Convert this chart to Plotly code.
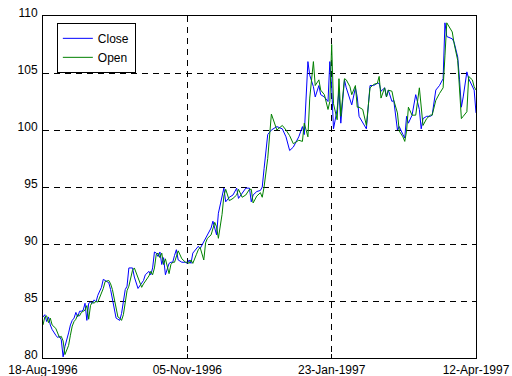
import datetime as dt
import plotly.graph_objects as go

# Daily prices, trading days counted from 18-Aug-1996
start = dt.date(1996, 8, 18)
day = [0, 1, 2, 3, 4, 5, 7, 8, 9, 10, 11, 12, 14, 15, 16, 17, 18, 19, 20, 21,
       22, 23, 24, 25, 26, 27, 28, 29, 30, 31, 32, 33, 34, 36, 37, 38, 39, 40, 41, 42,
       43, 44, 45, 46, 47, 49, 50, 52, 54, 55, 56, 58, 59, 60, 61, 62, 63, 64, 65, 66,
       67, 69, 70, 71, 72, 73, 74, 76, 78, 79, 80, 81, 82, 84, 85, 86, 88, 89, 90, 92,
       93, 94, 95, 96, 98, 99, 100, 102, 104, 106, 107, 109, 111, 113, 114, 115, 117, 119, 120, 121,
       123, 125, 128, 131, 133, 135, 137, 140, 142, 143, 145, 146, 148, 149, 151, 152, 154, 156, 157, 158,
       159, 161, 162, 163, 165, 166, 168, 169, 171, 172, 173, 175, 177, 179, 181, 183, 184, 185, 187, 188,
       189, 191, 192, 194, 195, 197, 198, 199, 200, 202, 203, 204, 206, 207, 208, 210, 212, 213, 215, 217,
       219, 220, 221, 224, 225, 227, 228, 229, 230, 232, 233, 235, 236, 237]

close = [83.6, 83.8, 83.2, 83.6, 82.9, 82.5, 82.0, 81.8, 81.9, 81.6, 80.1, 81.0, 82.2, 82.9, 83.3, 83.5, 84.0, 83.6, 84.1, 84.1,
         84.2, 84.8, 83.3, 84.8, 84.9, 84.8, 85.1, 84.9, 85.5, 85.8, 86.2, 86.9, 86.8, 86.6, 86.0, 85.1, 84.1, 83.5, 83.4, 83.3,
         83.9, 84.9, 86.0, 86.3, 87.9, 87.9, 87.1, 86.1, 86.5, 86.8, 87.3, 87.6, 87.3, 87.9, 89.3, 89.2, 88.9, 89.3, 88.2, 88.8,
         87.3, 88.3, 88.4, 88.4, 89.0, 89.5, 88.6, 88.4, 88.4, 88.3, 88.6, 88.3, 89.2, 89.6, 89.8, 89.6, 90.2, 90.6, 90.9, 91.4,
         92.0, 91.5, 90.8, 92.7, 94.3, 94.9, 93.7, 94.1, 94.3, 94.9, 94.0, 94.4, 94.9, 94.9, 93.7, 94.3, 94.6, 94.7, 95.0, 96.6,
         99.6, 100.0, 100.3, 100.1, 99.4, 98.2, 98.5, 99.4, 100.3, 99.6, 106.0, 104.8, 103.8, 102.9, 103.9, 103.1, 102.9, 102.5, 106.0, 103.8,
         100.1, 101.8, 103.5, 100.6, 104.4, 103.7, 102.8, 102.2, 103.7, 102.9, 101.2, 100.7, 100.1, 103.9, 103.9, 104.1, 104.1, 103.4, 103.7, 102.9,
         103.5, 102.5, 102.6, 100.0, 100.3, 99.6, 99.3, 101.2, 100.6, 101.3, 102.2, 103.1, 101.8, 100.1, 101.0, 101.2, 101.2, 101.3, 103.5, 103.9,
         104.5, 109.4, 108.2, 108.0, 107.7, 106.4, 104.4, 102.0, 102.9, 105.1, 104.5, 103.8, 103.5, 101.5]

open_ = [82.9, 83.6, 83.7, 83.1, 83.5, 82.9, 82.6, 82.1, 81.8, 81.9, 81.5, 80.3, 81.1, 82.0, 82.8, 83.2, 83.4, 83.8, 83.7, 84.0,
         84.1, 84.2, 84.6, 83.4, 84.6, 84.9, 84.8, 85.0, 84.9, 85.4, 85.7, 86.1, 86.7, 86.8, 86.5, 86.0, 85.2, 84.2, 83.6, 83.5,
         83.3, 83.8, 84.8, 85.9, 86.3, 87.7, 87.9, 87.0, 86.2, 86.5, 86.7, 87.2, 87.6, 87.3, 87.9, 89.1, 89.2, 88.8, 89.2, 88.2,
         88.7, 87.4, 88.2, 88.4, 88.4, 89.0, 89.4, 88.7, 88.4, 88.4, 88.3, 88.6, 88.3, 89.1, 89.5, 89.7, 88.6, 90.1, 90.5, 90.8,
         91.3, 91.9, 91.5, 90.5, 92.6, 94.2, 94.8, 93.8, 94.0, 94.3, 94.8, 94.1, 94.3, 94.8, 94.8, 93.6, 94.2, 94.5, 94.1, 95.0,
         97.5, 101.4, 100.0, 100.4, 100.0, 99.5, 98.8, 99.1, 99.0, 100.6, 99.4, 102.8, 106.0, 103.9, 104.4, 103.5, 103.1, 101.8, 102.5, 107.5,
         102.3, 100.9, 104.5, 101.2, 104.5, 104.4, 103.8, 103.1, 103.9, 102.0, 102.0, 101.8, 100.4, 103.7, 104.0, 104.1, 104.7, 102.8, 103.7, 102.9,
         103.5, 103.4, 102.6, 101.5, 99.9, 99.4, 99.0, 99.9, 102.0, 101.3, 101.3, 101.3, 103.7, 101.8, 100.4, 101.0, 101.3, 101.3, 102.6, 103.2,
         103.7, 106.5, 109.4, 108.6, 107.6, 106.1, 103.8, 101.0, 101.2, 101.6, 104.7, 104.4, 103.8, 103.5]

tick_dates = ["1996-08-18", "1996-11-05", "1997-01-23", "1997-04-12"]
tick_text = ["18-Aug-1996", "05-Nov-1996", "23-Jan-1997", "12-Apr-1997"]
y_ticks = [80, 85, 90, 95, 100, 105, 110]

dates = [start + dt.timedelta(days=d) for d in day]

fig = go.Figure()
fig.add_trace(go.Scatter(x=dates, y=close, mode="lines", name="Close",
                         line=dict(color="#0000ff", width=1)))
fig.add_trace(go.Scatter(x=dates, y=open_, mode="lines", name="Open",
                         line=dict(color="#008000", width=1)))

font = dict(family="Liberation Sans, Arial, sans-serif", size=12, color="black")

fig.update_layout(
    width=512, height=376,
    margin=dict(l=43, r=36, t=16, b=18, autoexpand=False),
    paper_bgcolor="white", plot_bgcolor="white",
    font=font,
    showlegend=True,
    legend=dict(x=0.032, y=0.98, xanchor="left", yanchor="top",
                bgcolor="white", bordercolor="black", borderwidth=1,
                font=font, tracegroupgap=0),
    xaxis=dict(type="date", range=[tick_dates[0], tick_dates[-1]],
               tickmode="array", tickvals=tick_dates, ticktext=tick_text,
               showgrid=True, gridcolor="black", griddash="6px,5px", gridwidth=1,
               showline=True, linecolor="black", linewidth=1, mirror=True,
               ticks="inside", ticklen=4, tickcolor="black", zeroline=False,
               automargin=False, ticklabelstandoff=1, tickfont=font),
    yaxis=dict(range=[80, 110], tickmode="array", tickvals=y_ticks,
               showgrid=True, gridcolor="black", griddash="6px,5px", gridwidth=1,
               showline=True, linecolor="black", linewidth=1, mirror=True,
               ticks="inside", ticklen=4, tickcolor="black", zeroline=False,
               automargin=False, ticklabelstandoff=2, ticklabelshift=-3,
               tickfont=font),
)

fig.write_html("out.html")
